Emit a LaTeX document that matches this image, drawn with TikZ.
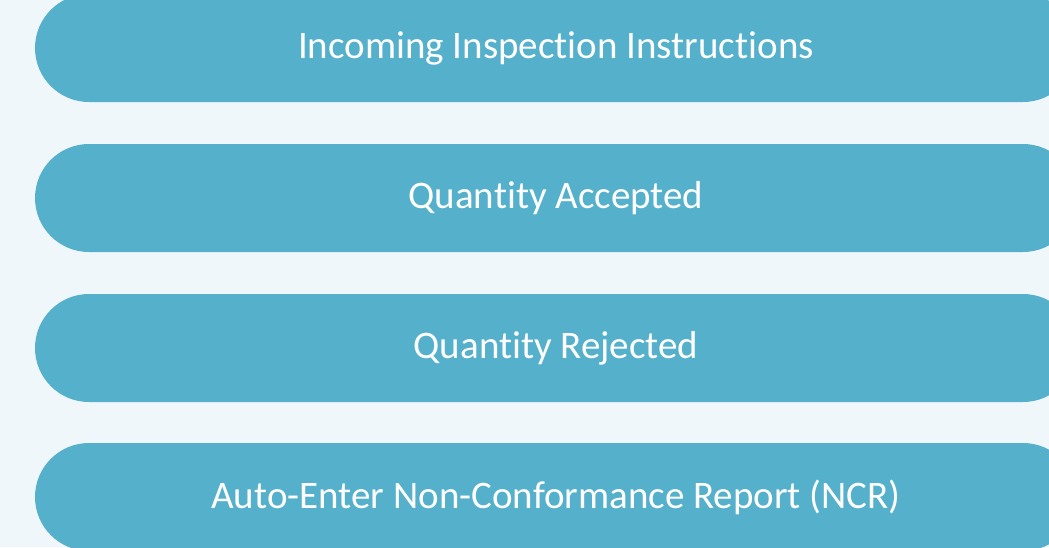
\documentclass[tikz,border=0pt]{standalone}
\usepackage{fontspec}
\setmainfont[Ligatures={NoCommon}]{Carlito}
\definecolor{bgc}{HTML}{F0F7FA}
\definecolor{pillc}{HTML}{55B0CB}
\begin{document}
\begin{tikzpicture}[x=1pt,y=-1pt,
  pill/.style={fill=pillc, draw=none, rounded corners=54pt, minimum width=1042pt, minimum height=108pt,
    text=white, font=\fontsize{39}{46}\selectfont, inner sep=0pt}]
\fill[bgc] (0,0) rectangle (1049,547);
\useasboundingbox (0,0) rectangle (1049,547);
\begin{scope}
\clip (0,0) rectangle (1049,547);
\node[pill] (p1) at (556,48) {Incoming Inspection Instructions};
\node[pill] (p2) at (556,198) {Quantity Accepted};
\node[pill] (p3) at (556,348) {Quantity Rejected};
\node[pill] (p4) at (556,497) {Auto-Enter Non-Conformance Report (NCR)};
\end{scope}
\end{tikzpicture}
\end{document}
